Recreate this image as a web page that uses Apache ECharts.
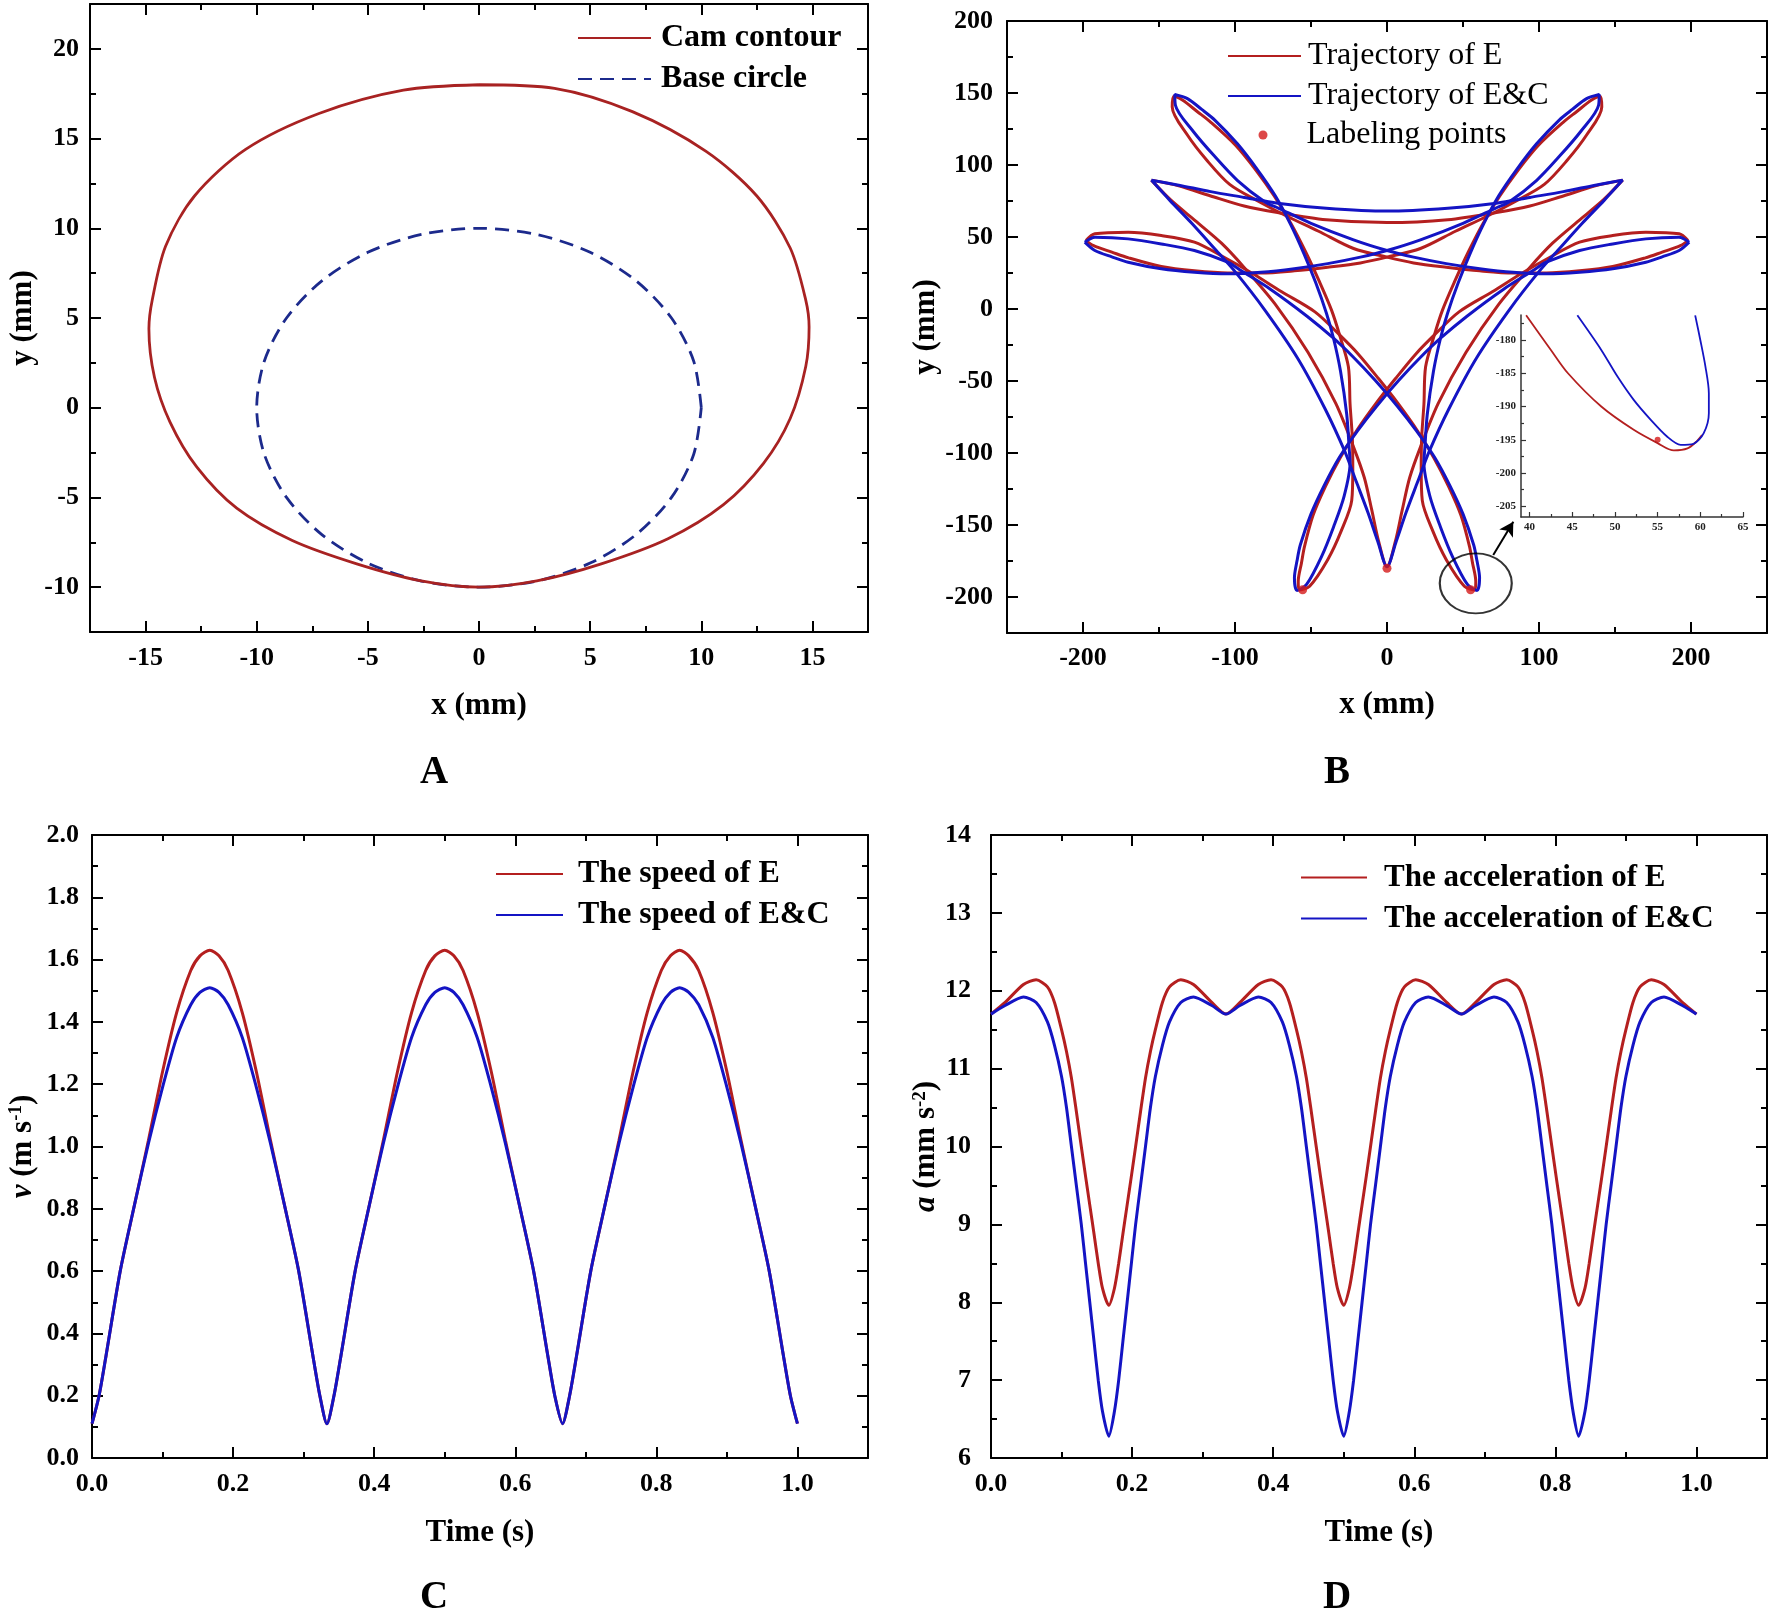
<!DOCTYPE html>
<html>
<head>
<meta charset="utf-8">
<title>Cam contour, trajectories, speed and acceleration</title>
<script src="https://cdn.jsdelivr.net/npm/echarts@6/dist/echarts.min.js"></script>
<style>
html, body { margin: 0; padding: 0; background: #fff; }
#chart { width: 1772px; height: 1615px; }
</style>
</head>
<body>
<div id="chart"></div>
<script>
// ---------------- data ----------------

// A: cam contour and base circle (mm)
const camContour = [
  [0, 18], [3.4, 17.8], [6.9, 16.5], [10.2, 14.3], [12.5, 11.8], [14, 8.9], [14.7, 6], [14.85, 4.5],
  [14.7, 2.3], [14, -0.6], [12.8, -3.1], [11, -5.4], [8.5, -7.3], [5.5, -8.7], [2.6, -9.65], [0, -10],
  [-2.6, -9.65], [-5.5, -8.7], [-8.4, -7.4], [-10.9, -5.6], [-12.7, -3.3], [-13.9, -0.8], [-14.6, 1.7],
  [-14.85, 4.4], [-14.7, 6], [-14.1, 9], [-12.8, 11.8], [-10.5, 14.4], [-7.2, 16.4], [-3.4, 17.7], [0, 18]
];
const baseCircle = [
  [10, 0], [9.66, 2.59], [8.66, 5], [7.07, 7.07], [5, 8.66], [2.59, 9.66], [0, 10], [-2.59, 9.66],
  [-5, 8.66], [-7.07, 7.07], [-8.66, 5], [-9.66, 2.59], [-10, 0], [-9.66, -2.59], [-8.66, -5],
  [-7.07, -7.07], [-5, -8.66], [-2.59, -9.66], [0, -10], [2.59, -9.66], [5, -8.66], [7.07, -7.07],
  [8.66, -5], [9.66, -2.59], [10, 0]
];

// B: trajectory of E (red) - the three closed loops of the figure
const trajE_cusp = [
  [-155, 89.5], [-137, 85.5], [-116, 78.5], [-94, 71.5], [-72, 67], [-40, 62], [0, 60], [40, 62], [72, 67],
  [94, 71.5], [116, 78.5], [137, 85.5], [155, 89.5], [142.5, 75.9], [126, 61.2], [108.9, 45.7], [94, 28.9],
  [73.7, 3.6], [52, -30], [33.7, -65.6], [22, -95.9], [14.9, -117.2], [10, -139.7], [5.5, -161.4], [0, -179],
  [-5.5, -161.4], [-10, -139.7], [-14.9, -117.2], [-22, -95.9], [-33.7, -65.6], [-52, -30], [-73.7, 3.6],
  [-94, 28.9], [-108.9, 45.7], [-126, 61.2], [-142.5, 75.9], [-155, 89.5]
];
const trajE_loopR = [
  [-198, 47.5], [-193, 44], [-181, 39.5], [-170, 35.5], [-148.5, 29.5], [-126.7, 26.5], [-104.8, 25],
  [-83, 25], [-61, 26.5], [-39, 29], [-17.5, 32], [0, 36], [22, 42], [45, 54], [66.2, 64.6], [85, 75],
  [103.5, 86.5], [118.4, 103.1], [131.3, 120.8], [141.3, 140.3], [140.1, 147.7], [134.6, 145.1],
  [124.7, 137], [115.7, 129.5], [99.8, 113.9], [86.3, 96.5], [74.1, 78.3], [63.2, 59.4], [53.5, 39.6],
  [44.6, 19.3], [36.5, -0.8], [31.2, -18], [25.4, -40.1], [24.3, -66], [22.8, -89.6], [22.5, -111.1],
  [23.2, -132.9], [30.1, -154.1], [39, -174.1], [50.9, -192.5], [57.9, -195.2], [58.4, -189.1],
  [56.3, -176.5], [54.3, -165], [48.7, -143.4], [40.4, -123], [30.8, -103.3], [19.9, -84.4], [7.6, -66.1],
  [-5.6, -48.3], [-19, -31.2], [-31.2, -18], [-47.4, -2], [-69.3, 12], [-89, 25], [-107.5, 36.1],
  [-126.7, 46.4], [-148.5, 51], [-170.3, 53.3], [-192.2, 52.2], [-198, 47.5]
];
const trajE_loopL = [
  [198, 47.5], [193, 44], [181, 39.5], [170, 35.5], [148.5, 29.5], [126.7, 26.5], [104.8, 25],
  [83, 25], [61, 26.5], [39, 29], [17.5, 32], [0, 36], [-22, 42], [-45, 54], [-66.2, 64.6], [-85, 75],
  [-103.5, 86.5], [-118.4, 103.1], [-131.3, 120.8], [-141.3, 140.3], [-140.1, 147.7], [-134.6, 145.1],
  [-124.7, 137], [-115.7, 129.5], [-99.8, 113.9], [-86.3, 96.5], [-74.1, 78.3], [-63.2, 59.4], [-53.5, 39.6],
  [-44.6, 19.3], [-36.5, -0.8], [-31.2, -18], [-25.4, -40.1], [-24.3, -66], [-22.8, -89.6], [-22.5, -111.1],
  [-23.2, -132.9], [-30.1, -154.1], [-39, -174.1], [-50.9, -192.5], [-57.9, -195.2], [-58.4, -189.1],
  [-56.3, -176.5], [-54.3, -165], [-48.7, -143.4], [-40.4, -123], [-30.8, -103.3], [-19.9, -84.4], [-7.6, -66.1],
  [5.6, -48.3], [19, -31.2], [31.2, -18], [47.4, -2], [69.3, 12], [89, 25], [107.5, 36.1],
  [126.7, 46.4], [148.5, 51], [170.3, 53.3], [192.2, 52.2], [198, 47.5]
];

// B: trajectory of E&C (blue)
const trajEC_cusp = [
  [-155, 89.5], [-137, 86], [-116, 81.5], [-94, 77.5], [-72, 73.5], [-40, 70], [0, 68], [40, 70], [72, 73.5],
  [94, 77.5], [116, 81.5], [137, 86], [155, 89.5], [143, 75.6], [128.6, 59.7], [114.1, 42.7], [99.7, 25.6],
  [80.6, -0.4], [58.9, -34], [40.6, -69.6], [27.7, -99.1], [20.1, -120.2], [12.6, -141.2], [6, -161.6], [0, -179],
  [-6, -161.6], [-12.6, -141.2], [-20.1, -120.2], [-27.7, -99.1], [-40.6, -69.6], [-58.9, -34], [-80.6, -0.4],
  [-99.7, 25.6], [-114.1, 42.7], [-128.6, 59.7], [-143, 75.6], [-155, 89.5]
];
const trajEC_loopR = [
  [-198.8, 46.4], [-192.2, 40.6], [-181, 36.2], [-170.3, 32.5], [-148.5, 27.9], [-126.7, 25.5], [-104.8, 24.4],
  [-83, 25.5], [-61, 28], [-39, 31.5], [-17.5, 36], [0, 40.6], [22, 48], [50, 59.5], [71.2, 69.9], [80.5, 74.5],
  [98.5, 89.4], [113.4, 106], [127.3, 123.1], [139.2, 141.5], [139.6, 149], [131.3, 146.1], [121.9, 138.6],
  [113.3, 131.2], [98.4, 114.7], [85.4, 97], [73.5, 78.6], [63.6, 59.1], [54.8, 38.8], [46.8, 18], [39.9, -2.8],
  [35.2, -20.3], [30.6, -43.1], [26.5, -73.1], [24.9, -96.6], [24.3, -107], [28.2, -130], [35.1, -151.2],
  [43, -171.8], [52.9, -191.3], [59.2, -195.4], [60.9, -186.7], [59.2, -174.9], [57, -163.7], [50.1, -142.6],
  [41.3, -122.5], [31.3, -103], [19.4, -84.6], [6.3, -66.8], [-7.8, -49.5], [-22.4, -33.2], [-35.2, -20.3],
  [-52.6, -5], [-76.5, 13.6], [-96.1, 26.7], [-104.8, 32.5], [-126.7, 40.6], [-148.5, 45.2], [-170.3, 48.7],
  [-192.1, 49.8], [-198.8, 46.4]
];
const trajEC_loopL = [
  [198.8, 46.4], [192.2, 40.6], [181, 36.2], [170.3, 32.5], [148.5, 27.9], [126.7, 25.5], [104.8, 24.4],
  [83, 25.5], [61, 28], [39, 31.5], [17.5, 36], [0, 40.6], [-22, 48], [-50, 59.5], [-71.2, 69.9], [-80.5, 74.5],
  [-98.5, 89.4], [-113.4, 106], [-127.3, 123.1], [-139.2, 141.5], [-139.6, 149], [-131.3, 146.1], [-121.9, 138.6],
  [-113.3, 131.2], [-98.4, 114.7], [-85.4, 97], [-73.5, 78.6], [-63.6, 59.1], [-54.8, 38.8], [-46.8, 18], [-39.9, -2.8],
  [-35.2, -20.3], [-30.6, -43.1], [-26.5, -73.1], [-24.9, -96.6], [-24.3, -107], [-28.2, -130], [-35.1, -151.2],
  [-43, -171.8], [-52.9, -191.3], [-59.2, -195.4], [-60.9, -186.7], [-59.2, -174.9], [-57, -163.7], [-50.1, -142.6],
  [-41.3, -122.5], [-31.3, -103], [-19.4, -84.6], [-6.3, -66.8], [7.8, -49.5], [22.4, -33.2], [35.2, -20.3],
  [52.6, -5], [76.5, 13.6], [96.1, 26.7], [104.8, 32.5], [126.7, 40.6], [148.5, 45.2], [170.3, 48.7],
  [192.1, 49.8], [198.8, 46.4]
];
const labelPoints = [[0, -180], [-55.5, -195], [55, -195]];

// B inset: close-up of the lower right tip
const insetE = [
  [39.6, -176.3], [42.5, -181.5], [44.5, -185], [48.4, -190], [52.2, -193.5], [55, -195.5],
  [56.9, -196.6], [58.5, -196.3], [59.6, -195.2], [60.2, -194.3]
];
const insetEC = [
  [45.6, -176.3], [48.4, -181.5], [50.3, -185.5], [52.2, -189], [54.2, -192], [56.1, -194.5],
  [57.7, -195.75], [59.2, -195.6], [60.4, -194], [61, -191], [61, -188], [60.6, -184], [60, -180], [59.4, -176.3]
];
const insetPoint = [[55, -195]];

// C: speed (m/s) against time (s)
const speedTime = [
  0, 0.01, 0.02, 0.04, 0.06, 0.08, 0.1, 0.12, 0.14, 0.153, 0.167, 0.18, 0.193, 0.213, 0.233, 0.253, 0.273, 0.293, 0.313, 0.323,
  0.333, 0.343, 0.353, 0.373, 0.393, 0.413, 0.433, 0.453, 0.473, 0.486, 0.5, 0.513, 0.526, 0.546, 0.566, 0.586, 0.606, 0.626, 0.646, 0.656,
  0.667, 0.677, 0.687, 0.707, 0.727, 0.747, 0.767, 0.787, 0.807, 0.82, 0.833, 0.846, 0.86, 0.88, 0.9, 0.92, 0.94, 0.96, 0.98, 0.99, 1.0
];
const speedE = [
  0.11, 0.2, 0.33, 0.6, 0.81, 1.02, 1.24, 1.43, 1.565, 1.612, 1.63, 1.612, 1.565, 1.43, 1.24, 1.02, 0.81, 0.6, 0.33, 0.2,
  0.11, 0.2, 0.33, 0.6, 0.81, 1.02, 1.24, 1.43, 1.565, 1.612, 1.63, 1.612, 1.565, 1.43, 1.24, 1.02, 0.81, 0.6, 0.33, 0.2,
  0.11, 0.2, 0.33, 0.6, 0.81, 1.02, 1.24, 1.43, 1.565, 1.612, 1.63, 1.612, 1.565, 1.43, 1.24, 1.02, 0.81, 0.6, 0.33, 0.2, 0.11
];
const speedEC = [
  0.11, 0.2, 0.33, 0.6, 0.81, 1.01, 1.19, 1.35, 1.455, 1.495, 1.51, 1.495, 1.455, 1.35, 1.19, 1.01, 0.81, 0.6, 0.33, 0.2,
  0.11, 0.2, 0.33, 0.6, 0.81, 1.01, 1.19, 1.35, 1.455, 1.495, 1.51, 1.495, 1.455, 1.35, 1.19, 1.01, 0.81, 0.6, 0.33, 0.2,
  0.11, 0.2, 0.33, 0.6, 0.81, 1.01, 1.19, 1.35, 1.455, 1.495, 1.51, 1.495, 1.455, 1.35, 1.19, 1.01, 0.81, 0.6, 0.33, 0.2, 0.11
];

// D: acceleration against time (s)
const accelTime = [
  0, 0.02, 0.046, 0.064, 0.08, 0.09, 0.1, 0.107, 0.114, 0.121, 0.128, 0.134, 0.14, 0.146, 0.152, 0.158,
  0.167, 0.175, 0.181, 0.187, 0.193, 0.199, 0.205, 0.212, 0.219, 0.226, 0.233, 0.243, 0.253, 0.269, 0.287, 0.313,
  0.333, 0.353, 0.379, 0.397, 0.413, 0.423, 0.433, 0.44, 0.447, 0.454, 0.461, 0.467, 0.473, 0.479, 0.485, 0.491,
  0.5, 0.508, 0.514, 0.52, 0.526, 0.532, 0.538, 0.545, 0.552, 0.559, 0.566, 0.576, 0.586, 0.602, 0.62, 0.646,
  0.667, 0.687, 0.713, 0.731, 0.747, 0.757, 0.767, 0.774, 0.781, 0.788, 0.795, 0.801, 0.807, 0.813, 0.819, 0.825,
  0.833, 0.842, 0.848, 0.854, 0.86, 0.866, 0.872, 0.879, 0.886, 0.893, 0.9, 0.91, 0.92, 0.936, 0.954, 0.98, 1.0
];
const accelE = [
  11.7, 11.85, 12.08, 12.14, 12.05, 11.85, 11.5, 11.22, 10.88, 10.45, 10.0, 9.62, 9.25, 8.88, 8.5, 8.18,
  7.96, 8.18, 8.5, 8.88, 9.25, 9.62, 10.0, 10.45, 10.88, 11.22, 11.5, 11.85, 12.05, 12.14, 12.08, 11.85,
  11.7, 11.85, 12.08, 12.14, 12.05, 11.85, 11.5, 11.22, 10.88, 10.45, 10.0, 9.62, 9.25, 8.88, 8.5, 8.18,
  7.96, 8.18, 8.5, 8.88, 9.25, 9.62, 10.0, 10.45, 10.88, 11.22, 11.5, 11.85, 12.05, 12.14, 12.08, 11.85,
  11.7, 11.85, 12.08, 12.14, 12.05, 11.85, 11.5, 11.22, 10.88, 10.45, 10.0, 9.62, 9.25, 8.88, 8.5, 8.18,
  7.96, 8.18, 8.5, 8.88, 9.25, 9.62, 10.0, 10.45, 10.88, 11.22, 11.5, 11.85, 12.05, 12.14, 12.08, 11.85, 11.7
];
const accelEC = [
  11.7, 11.81, 11.92, 11.85, 11.6, 11.3, 10.9, 10.5, 10.0, 9.5, 9.0, 8.5, 8.0, 7.5, 7.0, 6.6,
  6.28, 6.6, 7.0, 7.5, 8.0, 8.5, 9.0, 9.5, 10.0, 10.5, 10.9, 11.3, 11.6, 11.85, 11.92, 11.81,
  11.7, 11.81, 11.92, 11.85, 11.6, 11.3, 10.9, 10.5, 10.0, 9.5, 9.0, 8.5, 8.0, 7.5, 7.0, 6.6,
  6.28, 6.6, 7.0, 7.5, 8.0, 8.5, 9.0, 9.5, 10.0, 10.5, 10.9, 11.3, 11.6, 11.85, 11.92, 11.81,
  11.7, 11.81, 11.92, 11.85, 11.6, 11.3, 10.9, 10.5, 10.0, 9.5, 9.0, 8.5, 8.0, 7.5, 7.0, 6.6,
  6.28, 6.6, 7.0, 7.5, 8.0, 8.5, 9.0, 9.5, 10.0, 10.5, 10.9, 11.3, 11.6, 11.85, 11.92, 11.81, 11.7
];

// tick values
const ticksAx = [-15, -10, -5, 0, 5, 10, 15];
const minorAx = [-17.5, -12.5, -7.5, -2.5, 2.5, 7.5, 12.5, 17.5];
const ticksAy = [-10, -5, 0, 5, 10, 15, 20];
const minorAy = [-12.5, -7.5, -2.5, 2.5, 7.5, 12.5, 17.5, 22.5];
const ticksBx = [-200, -100, 0, 100, 200];
const minorBx = [-250, -150, -50, 50, 150, 250];
const ticksBy = [-200, -150, -100, -50, 0, 50, 100, 150, 200];
const minorBy = [-225, -175, -125, -75, -25, 25, 75, 125, 175];
const ticksTime = [0, 0.2, 0.4, 0.6, 0.8, 1.0];
const minorTime = [0.1, 0.3, 0.5, 0.7, 0.9, 1.1];
const ticksCy = [0, 0.2, 0.4, 0.6, 0.8, 1.0, 1.2, 1.4, 1.6, 1.8, 2.0];
const minorCy = [0.1, 0.3, 0.5, 0.7, 0.9, 1.1, 1.3, 1.5, 1.7, 1.9];
const ticksDy = [6, 7, 8, 9, 10, 11, 12, 13, 14];
const minorDy = [6.5, 7.5, 8.5, 9.5, 10.5, 11.5, 12.5, 13.5];
const ticksInsetX = [40, 45, 50, 55, 60, 65];
const minorInsetX = [42.5, 47.5, 52.5, 57.5, 62.5];
const ticksInsetY = [-205, -200, -195, -190, -185, -180];
const minorInsetY = [-202.5, -197.5, -192.5, -187.5, -182.5, -177.5];

// ---------------- chart ----------------
const FONT = 'Liberation Serif';
const RED = '#B41F1F';
const BLUE = '#1414C4';
const CAM_RED = '#A82222';
const NAVY = '#1C2A8C';

const chart = echarts.init(document.getElementById('chart'));

const richName = {
  i: { fontFamily: FONT, fontWeight: 'bold', fontStyle: 'italic', fontSize: 31, color: '#000' },
  sup: { fontFamily: FONT, fontWeight: 'bold', fontSize: 19, color: '#000', verticalAlign: 'top' }
};

function frameAxes(gi, c) {
  const mk = (ax, pos, major) => ({
    type: 'value', gridIndex: gi, position: pos, min: ax.min, max: ax.max,
    splitLine: { show: false },
    axisLine: { show: major, onZero: false, lineStyle: { color: '#000', width: 2 } },
    axisTick: {
      show: true, inside: true, length: major ? 11 : 6,
      customValues: major ? ax.major : ax.minor,
      lineStyle: { color: '#000', width: 2 }
    },
    axisLabel: { show: false }
  });
  const x = [mk(c.x, 'bottom', true), mk(c.x, 'bottom', false), mk(c.x, 'top', true), mk(c.x, 'top', false)];
  const y = [mk(c.y, 'left', true), mk(c.y, 'left', false), mk(c.y, 'right', true), mk(c.y, 'right', false)];
  [[x[0], c.x], [y[0], c.y]].forEach(([a, ax]) => {
    a.axisLabel = {
      show: true, customValues: ax.major, margin: ax.margin, formatter: ax.fmt,
      color: '#000', fontFamily: FONT, fontWeight: 'bold', fontSize: 26
    };
    a.name = ax.name;
    a.nameLocation = 'middle';
    a.nameGap = ax.nameGap;
    a.nameTextStyle = { fontFamily: FONT, fontWeight: 'bold', fontSize: 31, color: '#000', rich: richName };
  });
  return { x, y };
}

const int = v => String(v);
const dec1 = v => v.toFixed(1);

const frames = [
  frameAxes(0, {
    x: { min: -17.5, max: 17.5, major: ticksAx, minor: minorAx, fmt: int, margin: 13, name: 'x (mm)', nameGap: 58 },
    y: { min: -12.5, max: 22.5, major: ticksAy, minor: minorAy, fmt: int, margin: 11, name: 'y (mm)', nameGap: 52 }
  }),
  frameAxes(1, {
    x: { min: -250, max: 250, major: ticksBx, minor: minorBx, fmt: int, margin: 12, name: 'x (mm)', nameGap: 56 },
    y: { min: -225, max: 200, major: ticksBy, minor: minorBy, fmt: int, margin: 14, name: 'y (mm)', nameGap: 63 }
  }),
  frameAxes(2, {
    x: { min: 0, max: 1.1, major: ticksTime, minor: minorTime, fmt: dec1, margin: 13, name: 'Time (s)', nameGap: 59 },
    y: { min: 0, max: 2.0, major: ticksCy, minor: minorCy, fmt: dec1, margin: 13, name: '{i|v} (m s{sup|-1})', nameGap: 54 }
  }),
  frameAxes(3, {
    x: { min: 0, max: 1.1, major: ticksTime, minor: minorTime, fmt: dec1, margin: 13, name: 'Time (s)', nameGap: 59 },
    y: { min: 6, max: 14, major: ticksDy, minor: minorDy, fmt: int, margin: 20, name: '{i|a} (mm s{sup|-2})', nameGap: 41 }
  })
];

// inset axes (only bottom and left lines)
const insetAxis = (pos, ax, major) => ({
  type: 'value', gridIndex: 4, position: pos, min: ax.min, max: ax.max,
  splitLine: { show: false },
  axisLine: { show: major, onZero: false, lineStyle: { color: '#333', width: 1.5 } },
  axisTick: {
    show: true, inside: true, length: major ? 5 : 3,
    customValues: major ? ax.major : ax.minor, lineStyle: { color: '#333', width: 1.2 }
  },
  axisLabel: major ? {
    show: true, customValues: ax.major, margin: 5, color: '#222',
    fontFamily: FONT, fontWeight: 'bold', fontSize: 11
  } : { show: false }
});
const insetX = { min: 39, max: 65, major: ticksInsetX, minor: minorInsetX };
const insetY = { min: -206.6, max: -176.25, major: ticksInsetY, minor: minorInsetY };

const xAxis = [].concat(...frames.map(f => f.x), [insetAxis('bottom', insetX, true), insetAxis('bottom', insetX, false)]);
const yAxis = [].concat(...frames.map(f => f.y), [insetAxis('left', insetY, true), insetAxis('left', insetY, false)]);

function curve(name, axis, data, color, width, extra) {
  return Object.assign({
    type: 'line', name: name, xAxisIndex: axis, yAxisIndex: axis, data: data,
    smooth: 0.3, symbol: 'none', showSymbol: false,
    lineStyle: { color: color, width: width }, itemStyle: { color: color },
    emphasis: { disabled: true }, silent: true
  }, extra || {});
}

const pairs = (xs, ys) => xs.map((x, i) => [x, ys[i]]);

const series = [
  // A
  curve('Base circle', 0, baseCircle, NAVY, 2.8, { lineStyle: { color: NAVY, width: 2.8, type: [14, 8] } }),
  curve('Cam contour', 0, camContour, CAM_RED, 2.8),
  // B
  curve('Trajectory of E', 4, trajE_cusp, RED, 3),
  curve('Trajectory of E', 4, trajE_loopR, RED, 3),
  curve('Trajectory of E', 4, trajE_loopL, RED, 3),
  curve('Trajectory of E&C', 4, trajEC_cusp, BLUE, 3),
  curve('Trajectory of E&C', 4, trajEC_loopR, BLUE, 3),
  curve('Trajectory of E&C', 4, trajEC_loopL, BLUE, 3),
  {
    type: 'scatter', name: 'Labeling points', xAxisIndex: 4, yAxisIndex: 4, data: labelPoints,
    symbol: 'circle', symbolSize: 9, itemStyle: { color: '#D41A1A' }, z: 5, silent: true
  },
  {
    type: 'scatter', name: 'zoom ring', xAxisIndex: 4, yAxisIndex: 4, data: [[58.4, -190.5]],
    symbol: 'circle', symbolSize: [72, 60],
    itemStyle: { color: 'rgba(0,0,0,0)', borderColor: '#000', borderWidth: 2 }, z: 6, silent: true,
    markLine: {
      silent: true, symbol: ['none', 'arrow'], symbolSize: [12, 14], animation: false,
      lineStyle: { color: '#000', width: 2, type: 'solid' }, label: { show: false },
      data: [[{ coord: [69.9, -170.8] }, { coord: [83.1, -147.7] }]]
    }
  },
  // inset
  curve('inset E', 16, insetE, RED, 1.8),
  curve('inset E&C', 16, insetEC, BLUE, 1.8),
  {
    type: 'scatter', name: 'inset point', xAxisIndex: 16, yAxisIndex: 16, data: insetPoint,
    symbolSize: 6, itemStyle: { color: '#D41A1A' }, silent: true
  },
  // C
  curve('The speed of E', 8, pairs(speedTime, speedE), RED, 3, { smooth: 0.25 }),
  curve('The speed of E&C', 8, pairs(speedTime, speedEC), BLUE, 3, { smooth: 0.25 }),
  // D
  curve('The acceleration of E', 12, pairs(accelTime, accelE), RED, 3, { smooth: 0.25 }),
  curve('The acceleration of E&C', 12, pairs(accelTime, accelEC), BLUE, 3, { smooth: 0.25 })
];

const legendText = (weight, size, pad) => ({
  fontFamily: FONT, fontWeight: weight, fontSize: size, color: '#000', padding: [0, 0, 0, pad]
});
// line legends: hide the marker the library puts in the middle of the line swatch
const legendBase = { orient: 'vertical', padding: 0, selectedMode: false, itemHeight: 14, itemStyle: { opacity: 0 } };

const legend = [
  Object.assign({}, legendBase, {
    data: ['Cam contour', 'Base circle'], left: 577, top: 22, itemWidth: 73, itemGap: 9,
    textStyle: legendText('bold', 32, 5)
  }),
  Object.assign({}, legendBase, {
    data: ['Trajectory of E', 'Trajectory of E&C'], left: 1227, top: 40, itemWidth: 73, itemGap: 8,
    textStyle: legendText('normal', 32, 2)
  }),
  {
    orient: 'vertical', padding: 0, selectedMode: false,
    data: ['Labeling points'], left: 1258.5, top: 119, itemWidth: 9, itemHeight: 9, icon: 'circle',
    textStyle: legendText('normal', 32, 34)
  },
  Object.assign({}, legendBase, {
    data: ['The speed of E', 'The speed of E&C'], left: 495, top: 858, itemWidth: 67, itemGap: 9,
    textStyle: legendText('bold', 32, 10)
  }),
  Object.assign({}, legendBase, {
    data: ['The acceleration of E', 'The acceleration of E&C'], left: 1300, top: 862, itemWidth: 66, itemGap: 10,
    textStyle: legendText('bold', 31, 12)
  })
];

const letter = (t, x, y) => ({
  type: 'text', x: x, y: y, silent: true,
  style: { text: t, fill: '#000', font: 'bold 39px "Liberation Serif"', textAlign: 'center', textVerticalAlign: 'middle' }
});

chart.setOption({
  backgroundColor: '#fff',
  animation: false,
  grid: [
    { left: 90, top: 4, width: 778, height: 628, outerBoundsMode: 'none' },
    { left: 1007, top: 21, width: 760, height: 612, outerBoundsMode: 'none' },
    { left: 92, top: 835, width: 776, height: 623, outerBoundsMode: 'none' },
    { left: 991, top: 835, width: 776, height: 623, outerBoundsMode: 'none' },
    { left: 1521, top: 315, width: 222, height: 202, outerBoundsMode: 'none' }
  ],
  xAxis: xAxis,
  yAxis: yAxis,
  legend: legend,
  series: series,
  graphic: [
    letter('A', 434, 773),
    letter('B', 1337, 773),
    letter('C', 434, 1598),
    letter('D', 1337, 1598)
  ]
});
</script>
</body>
</html>
